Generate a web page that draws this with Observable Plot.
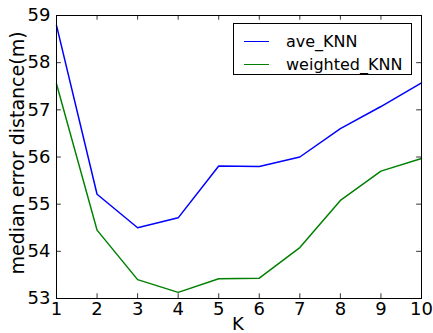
<!DOCTYPE html>
<html><head><meta charset="utf-8">
<script src="https://cdn.jsdelivr.net/npm/d3@7"></script>
<script src="https://cdn.jsdelivr.net/npm/@observablehq/plot@0.6"></script>
<style>
body{margin:0;background:#fff;font-family:"DejaVu Sans",sans-serif;}
#wrap{position:relative;width:433px;height:333px;overflow:hidden;}
#legend{position:absolute;left:233px;top:23px;width:179px;height:52px;border:1px solid #000;background:#fff;box-sizing:border-box;font-size:16px;}
.row{position:absolute;left:0;height:20px;display:flex;align-items:center;}
.sw{display:inline-block;width:25px;height:0;border-top:1.5px solid;margin-left:10px;margin-right:17px;}
</style></head>
<body><div id="wrap"><div id="chart"></div><div id="legend"></div></div>
<script>
const K = [1,2,3,4,5,6,7,8,9,10];
const aveKNN = [58.79,55.21,54.50,54.71,55.81,55.80,56.00,56.60,57.07,57.57];
const weightedKNN = [57.55,54.45,53.40,53.13,53.42,53.43,54.08,55.08,55.70,55.97];
const seriesNames = ["ave_KNN","weighted_KNN"];
const seriesColors = ["#0000ff","#008000"];
const yTicks = [53,54,55,56,57,58,59];
const xTicks = K;

const data = [];
K.forEach((k,i)=>{
  data.push({k, v: aveKNN[i], s: seriesNames[0]});
  data.push({k, v: weightedKNN[i], s: seriesNames[1]});
});
const tickLenY = 0.1, tickLenX = 0.12;
const chart = Plot.plot({
  width: 433, height: 333,
  marginLeft: 56, marginRight: 12, marginTop: 15, marginBottom: 35,
  style: {fontFamily: "DejaVu Sans, sans-serif", fontSize: "18px", background: "#fff", color: "#000"},
  x: {domain: [1,10], ticks: xTicks, tickSize: 0, tickPadding: 4, label: null, tickFormat: d=>String(d)},
  y: {domain: [53,59], ticks: yTicks, tickSize: 0, tickPadding: 6, label: null, tickFormat: d=>String(d)},
  color: {domain: seriesNames, range: seriesColors},
  marks: [
    Plot.line(data, {x: "k", y: "v", z: "s", stroke: "s", strokeWidth: 1.5}),
    // inward ticks on all four sides
    Plot.ruleX(xTicks, {x: d=>d, y1: 53, y2: 53+tickLenY, stroke: "#000", strokeWidth: 0.8}),
    Plot.ruleX(xTicks, {x: d=>d, y1: 59, y2: 59-tickLenY, stroke: "#000", strokeWidth: 0.8}),
    Plot.ruleY(yTicks, {y: d=>d, x1: 1, x2: 1+tickLenX, stroke: "#000", strokeWidth: 0.8}),
    Plot.ruleY(yTicks, {y: d=>d, x1: 10, x2: 10-tickLenX, stroke: "#000", strokeWidth: 0.8}),
    Plot.frame({stroke: "#000", strokeWidth: 1})
  ]
});
document.getElementById("chart").appendChild(chart);

// axis titles as real text inside the SVG
const svg = d3.select(chart);
svg.append("text").attr("x", 238).attr("y", 330).attr("text-anchor","middle")
  .attr("font-size", 18).attr("font-family","DejaVu Sans, sans-serif").text("K");
svg.append("text").attr("transform","translate(18,153) rotate(-90)").attr("text-anchor","middle")
  .attr("dominant-baseline","middle")
  .attr("font-size", 19).attr("font-family","DejaVu Sans, sans-serif").text("median error distance(m)");

const leg = document.getElementById("legend");
seriesNames.forEach((n,i)=>{
  const r = document.createElement("div");
  r.className = "row";
  r.style.top = (7 + i*23) + "px";
  r.innerHTML = `<span class="sw" style="border-color:${seriesColors[i]}"></span><span>${n}</span>`;
  leg.appendChild(r);
});
</script></body></html>
